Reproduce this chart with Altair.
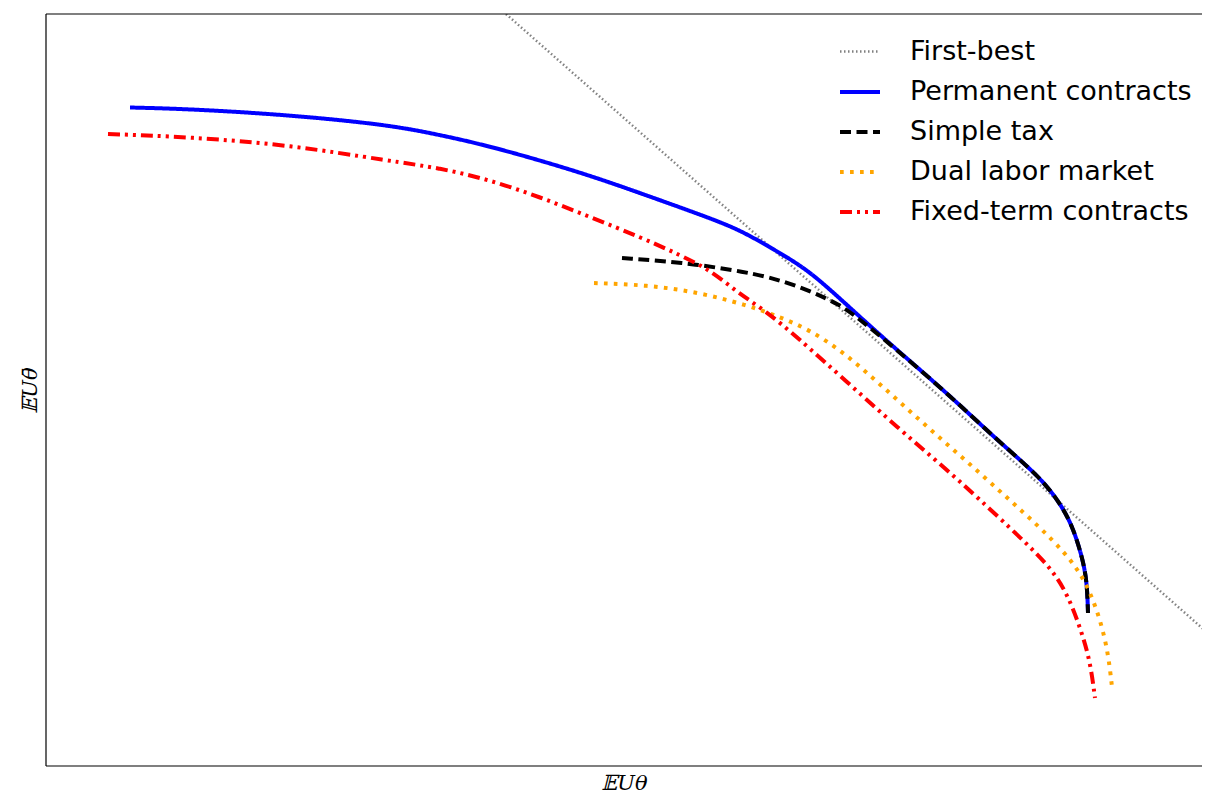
import altair as alt
import pandas as pd

series_names = ["First-best", "Permanent contracts", "Simple tax",
                "Dual labor market", "Fixed-term contracts"]
series_colors = ["#808080", "#0000ff", "#000000", "#ffa500", "#ff0000"]

# First-best frontier (straight line)
fb_x = [460, 1164]
fb_y = [752, 131]

# Permanent contracts
perm_x = [84, 144, 244, 344, 394, 444, 534, 594, 661, 694, 727, 754, 777, 814,
          851, 901, 951, 994, 1014, 1027, 1037, 1041, 1042]
perm_y = [658.5, 657, 651, 641, 631, 620, 594, 573, 549, 536, 517, 501, 483,
          449, 416, 373, 326, 289, 263, 239, 206, 183, 153]

# Simple tax
tax_x = [576, 634, 701, 734, 767, 794, 811, 851, 901, 951, 994, 1014, 1027,
         1037, 1041, 1042]
tax_y = [508, 504, 494, 486, 474, 461, 449, 416, 373, 326, 289, 263, 239,
         206, 183, 153]

# Dual labor market
dual_x = [548, 601, 651, 701, 734, 764, 797, 827, 857, 887, 917, 947, 977,
          1007, 1031, 1047, 1061, 1066]
dual_y = [483, 481, 474, 461, 449, 436, 414, 388, 361, 334, 308, 281, 254,
          226, 199, 169, 123, 79]

# Fixed-term contracts
fixed_x = [62, 144, 244, 344, 394, 444, 494, 544, 594, 634, 664, 691, 721,
           751, 801, 851, 901, 931, 977, 1004, 1021, 1034, 1044, 1049]
fixed_y = [632, 629, 621, 605, 598, 586, 569, 549, 529, 511, 496, 474, 454,
           429, 384, 339, 296, 269, 226, 199, 173, 139, 106, 68]

rows = []
for name, xs, ys in [
    (series_names[0], fb_x, fb_y),
    (series_names[1], perm_x, perm_y),
    (series_names[2], tax_x, tax_y),
    (series_names[3], dual_x, dual_y),
    (series_names[4], fixed_x, fixed_y),
]:
    for i, (xv, yv) in enumerate(zip(xs, ys)):
        rows.append({"series": name, "x": xv, "y": yv, "i": i})
df = pd.DataFrame(rows)

W, H = 1156, 752

lines = alt.Chart(df).mark_line(interpolate="basis", clip=True).encode(
    x=alt.X("x:Q", scale=alt.Scale(domain=[0, W], nice=False, zero=False),
            axis=alt.Axis(title="𝔼U𝜃", labels=False, ticks=False, domain=False,
                          grid=False, titlePadding=6)),
    y=alt.Y("y:Q", scale=alt.Scale(domain=[0, H], nice=False, zero=False),
            axis=alt.Axis(title="𝔼U𝜃̄", labels=False, ticks=False, domain=False,
                          grid=False, titlePadding=6)),
    color=alt.Color("series:N",
                    scale=alt.Scale(domain=series_names, range=series_colors),
                    legend=alt.Legend(title=None)),
    strokeDash=alt.StrokeDash("series:N",
                              scale=alt.Scale(domain=series_names,
                                              range=[[1.5, 2.5], [1, 0], [11, 5.5],
                                                     [3.7, 6.3], [12, 5, 3, 5, 3, 5]]),
                              legend=alt.Legend(title=None)),
    strokeWidth=alt.StrokeWidth("series:N",
                                scale=alt.Scale(type="ordinal", domain=series_names,
                                                range=[2.5, 4, 4, 4, 4]),
                                legend=alt.Legend(title=None)),
    order="i:Q",
    detail="series:N",
)

frame_src = pd.DataFrame({"k": [0]})
top_edge = alt.Chart(frame_src).mark_rule(color="black", strokeWidth=1.2).encode(
    x=alt.value(0), x2=alt.value(W), y=alt.value(0))
bottom_edge = alt.Chart(frame_src).mark_rule(color="black", strokeWidth=1.2).encode(
    x=alt.value(0), x2=alt.value(W), y=alt.value(H))
left_edge = alt.Chart(frame_src).mark_rule(color="black", strokeWidth=1.2).encode(
    x=alt.value(0), y=alt.value(0), y2=alt.value(H))

chart = alt.layer(lines, top_edge, bottom_edge, left_edge).properties(
    width=W, height=H,
    autosize=alt.AutoSizeParams(type="none"),
    padding={"left": 38, "top": 6, "right": 0, "bottom": 37},
    view=alt.ViewBackground(stroke="transparent", strokeWidth=0),
).configure_view(
    stroke="transparent", strokeWidth=0
).configure_axis(
    titleFont="DejaVu Serif", titleFontSize=21, titleFontStyle="italic",
    titleFontWeight="normal", titleColor="black",
).configure_legend(
    orient="none", legendX=792, legendY=16, padding=0,
    symbolType="stroke", symbolSize=1600, labelFontSize=27,
    labelFont="DejaVu Sans", labelColor="black", labelOffset=28,
    rowPadding=5, labelLimit=500,
)

chart.save("out.html", embed_options={"renderer": "svg", "actions": False})
